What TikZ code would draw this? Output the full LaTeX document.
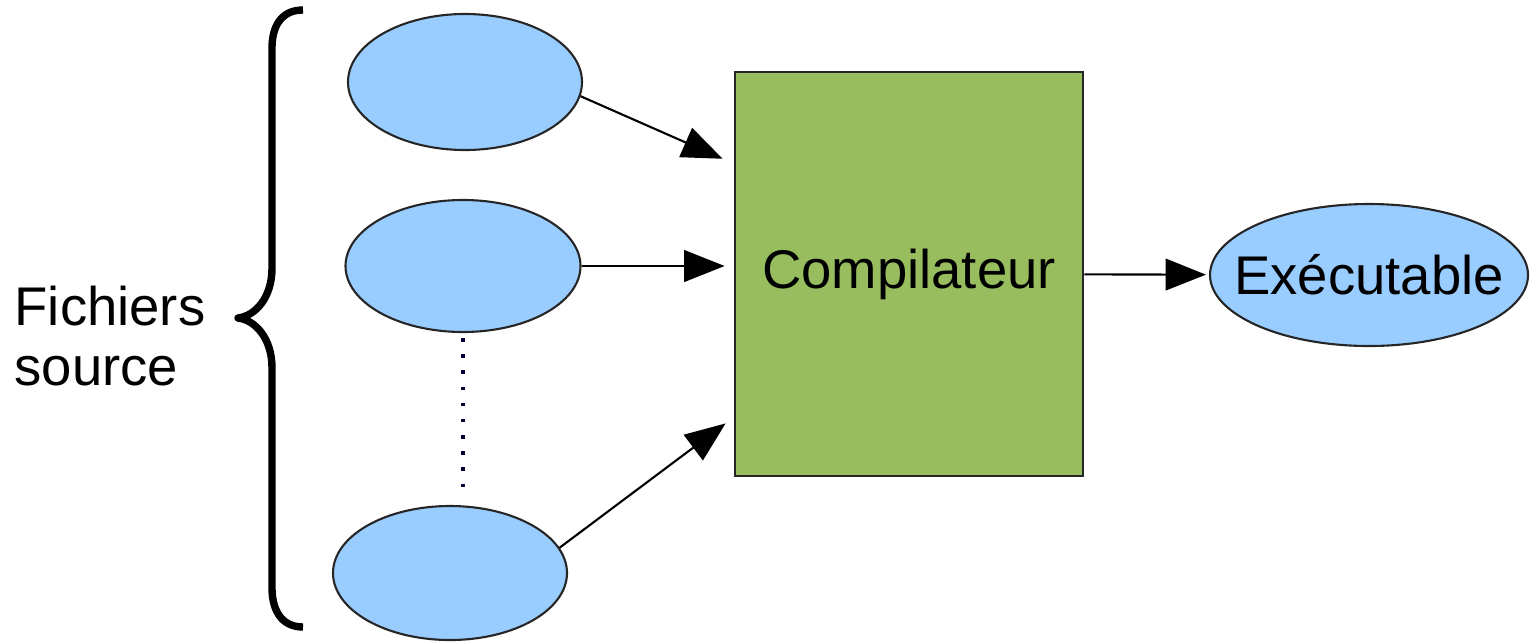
\documentclass[tikz,border=0pt]{standalone}
\usepackage{fontspec}
\setmainfont{Liberation Sans}
\usetikzlibrary{shapes.geometric, arrows.meta}
\definecolor{fichbleu}{HTML}{99CCFF}
\definecolor{compvert}{HTML}{97BD5E}

\begin{document}
\begin{tikzpicture}[
    source/.style={ellipse, draw=black!85, line width=0.6pt, fill=fichbleu, inner sep=0pt},
    fleche/.style={-{Triangle[length=11.5pt, width=9pt]}, line width=0.6pt},
    every node/.style={font=\fontsize{15.5}{17}\selectfont}
]
    \useasboundingbox (0,0) rectangle (15.31,6.43);

    % fichiers source
    \node[source, minimum width=2.34cm, minimum height=1.36cm] (s1) at (4.65,5.61) {};
    \node[source, minimum width=2.35cm, minimum height=1.32cm] (s2) at (4.63,3.77) {};
    \node[source, minimum width=2.34cm, minimum height=1.34cm] (s3) at (4.50,0.70) {};

    % compilateur et executable
    \node[draw=black!85, line width=0.8pt, fill=compvert, minimum width=3.48cm, minimum height=4.04cm] (comp) at (9.09,3.69) {Compilateur};
    \node[source, inner xsep=-0.23cm, minimum width=3.18cm, minimum height=1.42cm] (exe) at (13.69,3.68) {Exécutable};

    % points de suspension
    \draw[line width=1pt, color=black!80!blue, dash pattern=on 1pt off 3.6pt] ([yshift=-0.05cm]s2.south) -- ([yshift=0.06cm]s2.south |- s3.north);

    % fleches
    \draw[fleche, shorten >=0.12cm] (s1.-7) -- ([yshift=-0.93cm]comp.north west);
    \draw[fleche, shorten >=0.09cm] (s2) -- (s2 -| comp.west);
    \draw[fleche, shorten >=0.1cm] (s3.13) -- ([yshift=0.6cm]comp.south west);
    \draw[fleche, shorten >=0.03cm] (comp) -- (exe);

    % accolade
    \draw[line width=2.1pt, line join=round] (3.03,6.33) .. controls (2.80,6.33) and (2.72,6.15) .. (2.72,5.95)
        -- (2.72,3.75) .. controls (2.72,3.45) and (2.55,3.27) .. (2.38,3.25)
        .. controls (2.55,3.23) and (2.72,3.05) .. (2.72,2.75)
        -- (2.72,0.55) .. controls (2.72,0.35) and (2.80,0.16) .. (3.03,0.16);
    \node[anchor=base west, align=left, inner sep=0pt] (label) at (0.14,2.58) {Fichiers\\source};
\end{tikzpicture}
\end{document}
